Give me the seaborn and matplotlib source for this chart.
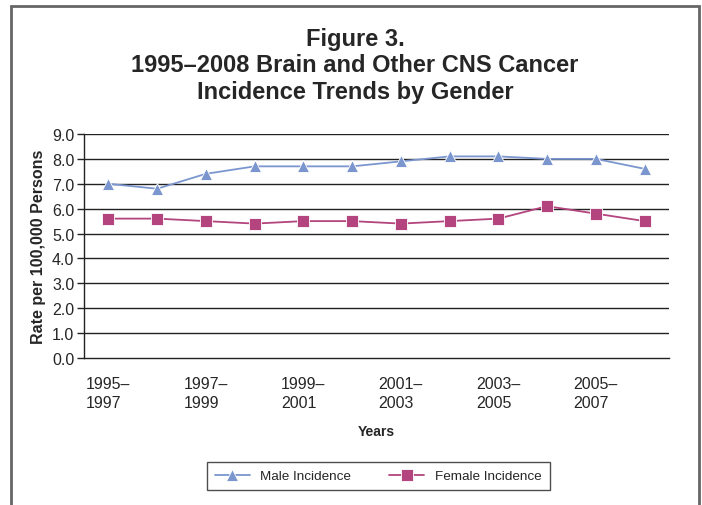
import matplotlib
matplotlib.use('Agg')
import matplotlib.pyplot as plt
from matplotlib.patches import Rectangle
import numpy as np
import pandas as pd
import seaborn as sns

periods = ['1995–1997', '1996–1998', '1997–1999', '1998–2000', '1999–2001', '2000–2002',
           '2001–2003', '2002–2004', '2003–2005', '2004–2006', '2005–2007', '2006–2008']
male = [7.0, 6.8, 7.4, 7.7, 7.7, 7.7, 7.9, 8.1, 8.1, 8.0, 8.0, 7.6]
female = [5.6, 5.6, 5.5, 5.4, 5.5, 5.5, 5.4, 5.5, 5.6, 6.1, 5.8, 5.5]
series_names = ['Male Incidence', 'Female Incidence']
series_colors = ['#7B96CF', '#B3447D']
yticks = np.arange(0, 9.5, 1.0)

df = pd.DataFrame({
    'idx': list(range(len(periods))) * 2,
    'rate': male + female,
    'gender': [series_names[0]] * len(periods) + [series_names[1]] * len(periods),
})

sns.set_style('white')
plt.rcParams['font.family'] = ['Liberation Sans', 'DejaVu Sans']

fig = plt.figure(figsize=(7.02, 5.06), dpi=100)
ax = fig.add_axes([84 / 702, 147 / 506, 585 / 702, 224 / 506])

sns.lineplot(data=df, x='idx', y='rate', hue='gender', style='gender',
             palette=dict(zip(series_names, series_colors)),
             markers={series_names[0]: '^', series_names[1]: 's'},
             dashes=False, markersize=8, linewidth=1.3, markeredgewidth=0.6,
             markeredgecolor='white', ax=ax, zorder=3)

ax.set_xlim(-0.5, len(periods) - 0.5)
ax.set_ylim(0, 9)
ax.set_yticks(yticks)
ax.set_yticklabels([f'{v:.1f}' for v in yticks], fontsize=11.5)
for y in yticks[1:]:
    ax.axhline(y, color='#222222', lw=1.0, zorder=1)

ax.set_xticks(range(0, len(periods), 2))
ax.set_xticklabels([p.replace('–', '–\n') for p in periods[::2]], fontsize=11.5,
                   multialignment='left', linespacing=1.3)
ax.set_xticks(np.arange(-0.5, len(periods), 1.0), minor=True)
ax.tick_params(axis='x', which='major', length=0, pad=13)
ax.tick_params(axis='x', which='minor', length=5, width=1, color='#222222', direction='out')
ax.tick_params(axis='y', length=5, width=1, color='#222222', direction='out', pad=2, left=True)

for side in ['top', 'right']:
    ax.spines[side].set_visible(False)
for side in ['left', 'bottom']:
    ax.spines[side].set_color('#222222')
    ax.spines[side].set_linewidth(1.0)

ax.set_xlabel('Years', fontsize=10, fontweight='bold', labelpad=10)
ax.set_ylabel('Rate per 100,000 Persons', fontsize=11.5, fontweight='bold', labelpad=4)

fig.text(355 / 702, 1 - 66 / 506, 'Figure 3.\n1995–2008 Brain and Other CNS Cancer\nIncidence Trends by Gender',
         ha='center', va='center', fontsize=17, fontweight='bold', linespacing=1.22)

handles, labels = ax.get_legend_handles_labels()
ax.legend(handles, labels, loc='center', bbox_to_anchor=(378 / 702, 1 - 477 / 506),
          bbox_transform=fig.transFigure, ncol=2, frameon=True, fancybox=False,
          edgecolor='#222222', fontsize=9.7, columnspacing=2.8, handlelength=2.6,
          borderpad=0.6).get_frame().set_linewidth(1.0)

fig.patches.append(Rectangle((11 / 702, -0.05), 688 / 702, 1.05 - 7 / 506,
                             transform=fig.transFigure, fill=False,
                             edgecolor='#666666', linewidth=2.0))

fig.savefig('out.png', dpi=100)
